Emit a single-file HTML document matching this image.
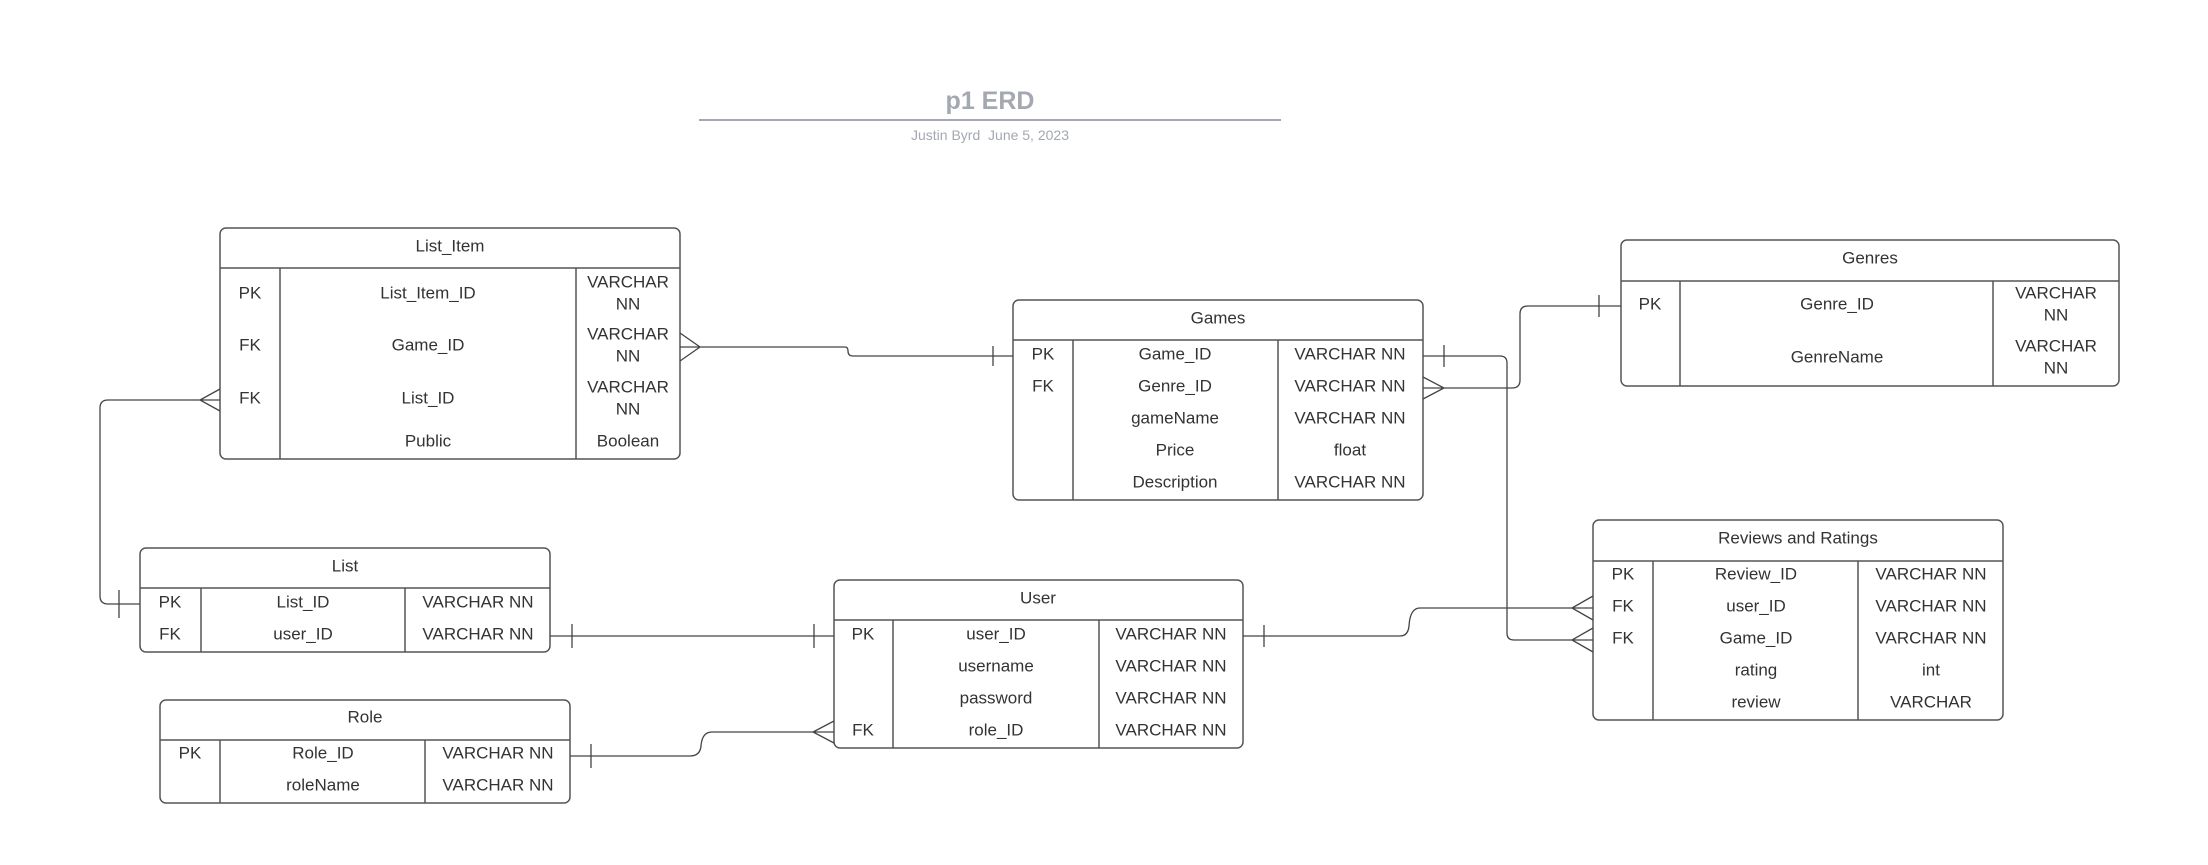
<!DOCTYPE html>
<html><head><meta charset="utf-8"><style>
html,body{margin:0;padding:0;background:#fff;}
svg{display:block;}
text{font-family:"Liberation Sans",sans-serif;font-size:17px;fill:#333;text-anchor:middle;dominant-baseline:central;}
.t{fill:none;stroke:#555;stroke-width:1.5;}
.l{fill:none;stroke:#444;stroke-width:1.3;}
</style></head><body>
<svg width="2208" height="865" viewBox="0 0 2208 865" xmlns="http://www.w3.org/2000/svg">
<!-- title -->
<text x="990" y="101" style="font-size:25px;font-weight:bold;fill:#a4a8b1">p1 ERD</text>
<line x1="699" y1="120" x2="1281" y2="120" stroke="#a4a8b1" stroke-width="2"/>
<text x="990" y="135" style="font-size:14px;fill:#a4a8b1">Justin Byrd&#160;&#160;June 5, 2023</text>

<!-- List_Item -->
<rect class="t" x="220" y="228" width="460" height="231" rx="6"/>
<line class="t" x1="220" y1="268" x2="680" y2="268"/>
<line class="t" x1="280" y1="268" x2="280" y2="459"/>
<line class="t" x1="576" y1="268" x2="576" y2="459"/>
<text x="450" y="246">List_Item</text>
<text x="250" y="293">PK</text><text x="428" y="293">List_Item_ID</text><text x="628" y="282">VARCHAR</text><text x="628" y="304">NN</text>
<text x="250" y="345">FK</text><text x="428" y="345">Game_ID</text><text x="628" y="334">VARCHAR</text><text x="628" y="356">NN</text>
<text x="250" y="398">FK</text><text x="428" y="398">List_ID</text><text x="628" y="387">VARCHAR</text><text x="628" y="409">NN</text>
<text x="428" y="441">Public</text><text x="628" y="441">Boolean</text>

<!-- Games -->
<rect class="t" x="1013" y="300" width="410" height="200" rx="6"/>
<line class="t" x1="1013" y1="340" x2="1423" y2="340"/>
<line class="t" x1="1073" y1="340" x2="1073" y2="500"/>
<line class="t" x1="1278" y1="340" x2="1278" y2="500"/>
<text x="1218" y="318">Games</text>
<text x="1043" y="354">PK</text><text x="1175" y="354">Game_ID</text><text x="1350" y="354">VARCHAR NN</text>
<text x="1043" y="386">FK</text><text x="1175" y="386">Genre_ID</text><text x="1350" y="386">VARCHAR NN</text>
<text x="1175" y="418">gameName</text><text x="1350" y="418">VARCHAR NN</text>
<text x="1175" y="450">Price</text><text x="1350" y="450">float</text>
<text x="1175" y="482">Description</text><text x="1350" y="482">VARCHAR NN</text>

<!-- Genres -->
<rect class="t" x="1621" y="240" width="498" height="146" rx="6"/>
<line class="t" x1="1621" y1="281" x2="2119" y2="281"/>
<line class="t" x1="1680" y1="281" x2="1680" y2="386"/>
<line class="t" x1="1993" y1="281" x2="1993" y2="386"/>
<text x="1870" y="258">Genres</text>
<text x="1650" y="304">PK</text><text x="1837" y="304">Genre_ID</text><text x="2056" y="293">VARCHAR</text><text x="2056" y="315">NN</text>
<text x="1837" y="357">GenreName</text><text x="2056" y="346">VARCHAR</text><text x="2056" y="368">NN</text>

<!-- Reviews -->
<rect class="t" x="1593" y="520" width="410" height="200" rx="6"/>
<line class="t" x1="1593" y1="561" x2="2003" y2="561"/>
<line class="t" x1="1653" y1="561" x2="1653" y2="720"/>
<line class="t" x1="1858" y1="561" x2="1858" y2="720"/>
<text x="1798" y="538">Reviews and Ratings</text>
<text x="1623" y="574">PK</text><text x="1756" y="574">Review_ID</text><text x="1931" y="574">VARCHAR NN</text>
<text x="1623" y="606">FK</text><text x="1756" y="606">user_ID</text><text x="1931" y="606">VARCHAR NN</text>
<text x="1623" y="638">FK</text><text x="1756" y="638">Game_ID</text><text x="1931" y="638">VARCHAR NN</text>
<text x="1756" y="670">rating</text><text x="1931" y="670">int</text>
<text x="1756" y="702">review</text><text x="1931" y="702">VARCHAR</text>

<!-- User -->
<rect class="t" x="834" y="580" width="409" height="168" rx="6"/>
<line class="t" x1="834" y1="620" x2="1243" y2="620"/>
<line class="t" x1="893" y1="620" x2="893" y2="748"/>
<line class="t" x1="1099" y1="620" x2="1099" y2="748"/>
<text x="1038" y="598">User</text>
<text x="863" y="634">PK</text><text x="996" y="634">user_ID</text><text x="1171" y="634">VARCHAR NN</text>
<text x="996" y="666">username</text><text x="1171" y="666">VARCHAR NN</text>
<text x="996" y="698">password</text><text x="1171" y="698">VARCHAR NN</text>
<text x="863" y="730">FK</text><text x="996" y="730">role_ID</text><text x="1171" y="730">VARCHAR NN</text>

<!-- List -->
<rect class="t" x="140" y="548" width="410" height="104" rx="6"/>
<line class="t" x1="140" y1="588" x2="550" y2="588"/>
<line class="t" x1="201" y1="588" x2="201" y2="652"/>
<line class="t" x1="405" y1="588" x2="405" y2="652"/>
<text x="345" y="566">List</text>
<text x="170" y="602">PK</text><text x="303" y="602">List_ID</text><text x="478" y="602">VARCHAR NN</text>
<text x="170" y="634">FK</text><text x="303" y="634">user_ID</text><text x="478" y="634">VARCHAR NN</text>

<!-- Role -->
<rect class="t" x="160" y="700" width="410" height="103" rx="6"/>
<line class="t" x1="160" y1="740" x2="570" y2="740"/>
<line class="t" x1="220" y1="740" x2="220" y2="803"/>
<line class="t" x1="425" y1="740" x2="425" y2="803"/>
<text x="365" y="717">Role</text>
<text x="190" y="753">PK</text><text x="323" y="753">Role_ID</text><text x="498" y="753">VARCHAR NN</text>
<text x="323" y="785">roleName</text><text x="498" y="785">VARCHAR NN</text>

<!-- connectors -->
<path class="l" d="M680 333 L700 347 L680 361 M680 347 L845 347 Q848 347 848 351 Q848 356 853 356 L1013 356 M993 346 L993 366"/>
<path class="l" d="M220 389 L200 400 L220 411 M220 400 L108 400 Q100 400 100 408 L100 596 Q100 604 108 604 L140 604 M119 590 L119 618"/>
<path class="l" d="M550 636 L834 636 M572 624 L572 648 M814 624 L814 648"/>
<path class="l" d="M570 756 L690 756 Q700 756 701 746 Q702 732 712 732 L834 732 M591 744 L591 768 M834 721 L813 732 L834 743"/>
<path class="l" d="M1423 356 L1500 356 Q1507 356 1507 363 L1507 633 Q1507 640 1514 640 L1593 640 M1444 345 L1444 367 M1593 628 L1572 640 L1593 652"/>
<path class="l" d="M1423 377 L1444 388 L1423 399 M1423 388 L1512 388 Q1520 388 1520 380 L1520 314 Q1520 306 1528 306 L1621 306 M1599 295 L1599 317"/>
<path class="l" d="M1243 636 L1400 636 Q1408 636 1409 626 Q1410 608 1420 608 L1593 608 M1264 625 L1264 647 M1593 596 L1572 608 L1593 620"/>
</svg>
</body></html>
